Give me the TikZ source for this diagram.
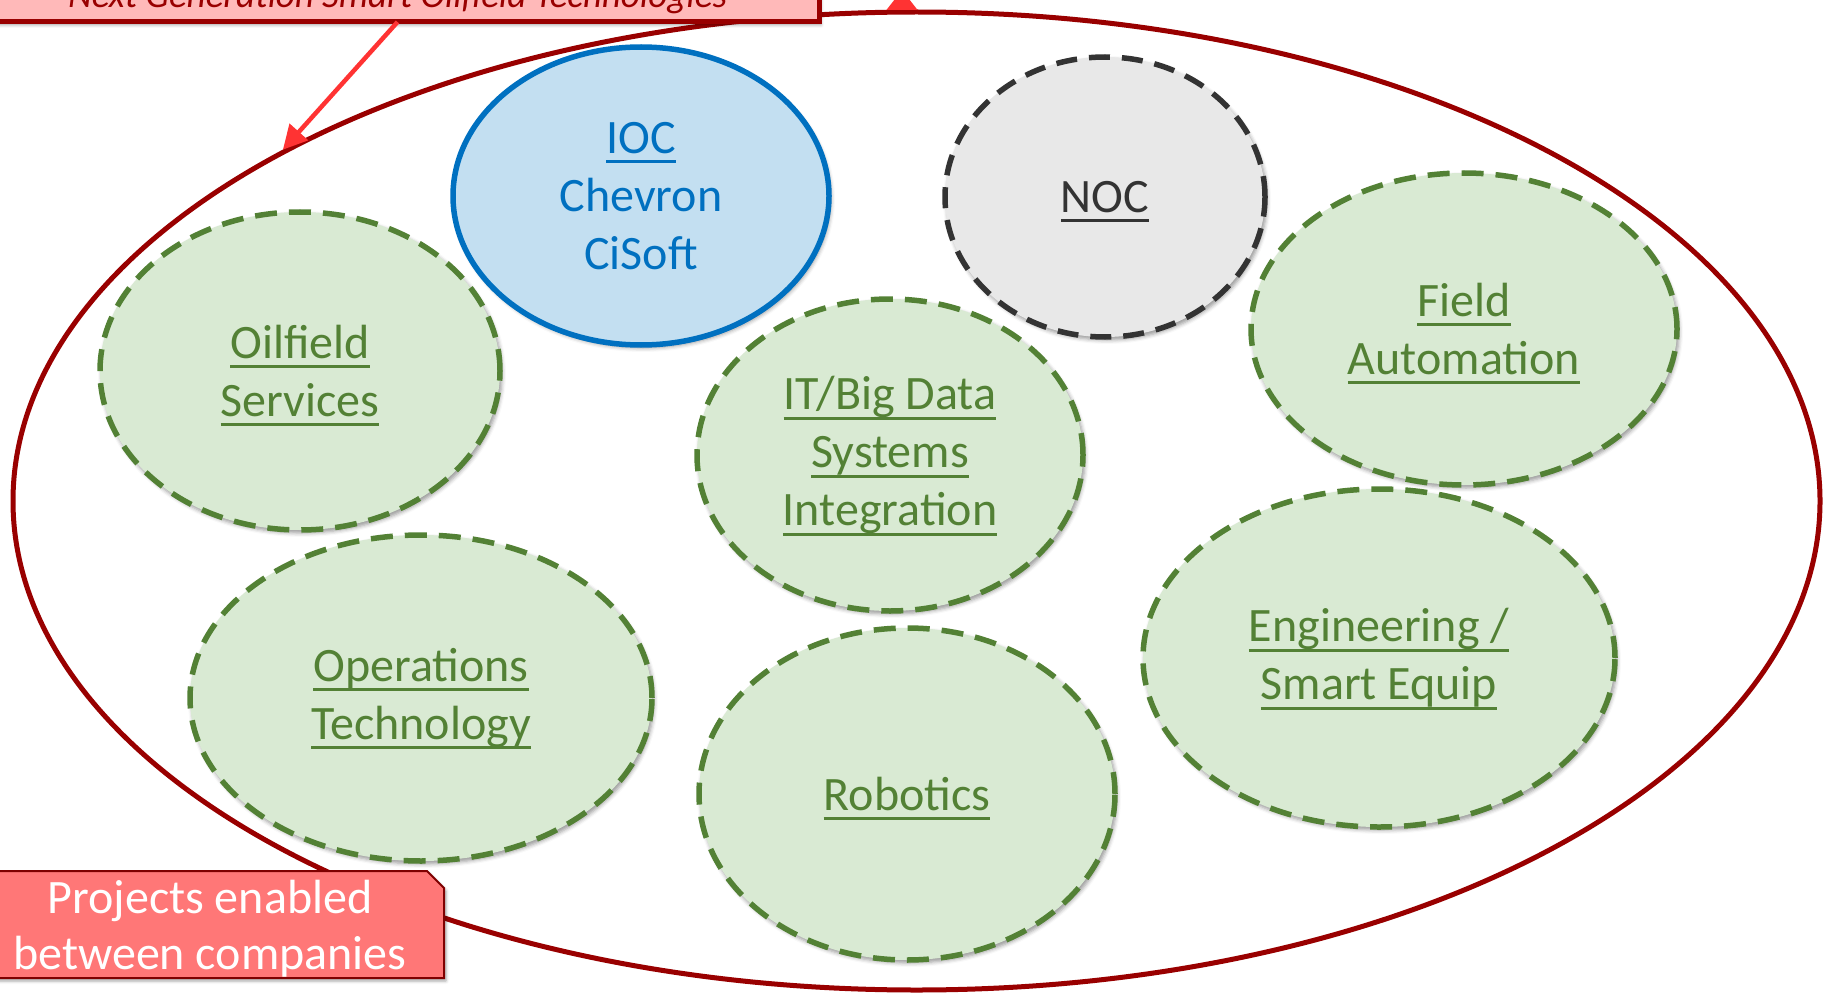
\documentclass[tikz,border=0pt]{standalone}
\usepackage{fontspec}
\setmainfont{Carlito}
\usetikzlibrary{shapes.geometric,arrows.meta,shadows.blur}
\definecolor{outerred}{HTML}{990000}
\definecolor{iocblue}{HTML}{0070C0}
\definecolor{iocfill}{HTML}{C3DFF1}
\definecolor{nocgray}{HTML}{333333}
\definecolor{nocfill}{HTML}{E8E8E8}
\definecolor{grn}{HTML}{538135}
\definecolor{grnfill}{HTML}{D9EAD3}
\definecolor{projfill}{HTML}{FF7777}
\definecolor{projedge}{HTML}{7F0000}
\definecolor{topfill}{HTML}{FFB9B9}
\definecolor{arrowred}{HTML}{FF3333}
\newcommand\myul[1]{\setbox0\hbox{#1}\rlap{\smash{\vrule height -7pt depth 10pt width \wd0}}\box0}
\tikzset{
  bubble/.style={ellipse, inner sep=0pt, align=center, font=\fontsize{48}{58}\selectfont,
    blur shadow={shadow xshift=2pt, shadow yshift=-3pt, shadow blur radius=4pt, shadow opacity=40}},
  grnb/.style={bubble, draw=grn, fill=grnfill, text=grn, line width=5.5pt, dash pattern=on 22pt off 12pt},
  iocb/.style={bubble, draw=iocblue, fill=iocfill, text=iocblue, line width=5.5pt},
  nocb/.style={bubble, draw=nocgray, fill=nocfill, text=nocgray, line width=5.5pt, dash pattern=on 21pt off 12pt},
  redarrow/.style={draw=arrowred, line width=4.5pt},
  boxshadow/.style={blur shadow={shadow xshift=2pt, shadow yshift=-3pt, shadow blur radius=3pt, shadow opacity=35}},
}
\begin{document}
\begin{tikzpicture}[x=1pt,y=-1pt]
\path[use as bounding box] (0,0) rectangle (1825,995);
\clip (0,0) rectangle (1825,995);
\node[ellipse, draw=outerred, line width=5pt, minimum width=1807pt, minimum height=978pt, inner sep=0pt] (outer) at (916.5,501) {};

\node[iocb, minimum width=376pt, minimum height=298pt] (ioc) at (641,196) {\myul{IOC}\\Chevron\\CiSoft};
\node[nocb, minimum width=320pt, minimum height=280pt] (noc) at (1105,197) {\myul{NOC}};
\node[grnb, minimum width=400pt, minimum height=318pt] (ofs) at (300,371) {\myul{Oilfield}\\\myul{Services}};
\node[grnb, minimum width=386pt, minimum height=312pt] (itb) at (890,455) {\myul{IT/Big Data}\\\myul{Systems}\\\myul{Integration}};
\node[grnb, minimum width=426pt, minimum height=312pt] (fa) at (1464,329) {\myul{Field}\\\myul{Automation}};
\node[grnb, minimum width=462pt, minimum height=326pt] (opt) at (421,698) {\myul{Operations}\\\myul{Technology}};
\node[grnb, minimum width=416pt, minimum height=332pt] (rob) at (907,794) {\myul{Robotics}};
\node[grnb, minimum width=472pt, minimum height=338pt] (eng) at (1379,658) {\myul{Engineering /}\\\myul{Smart Equip}};

\node[draw=outerred, fill=topfill, line width=5pt, minimum width=843pt, text height=27pt, text depth=9pt,
  inner ysep=5pt, outer sep=0pt, anchor=south, text=outerred, font=\fontsize{37}{44}\selectfont\itshape, boxshadow]
  (top) at (397.5,22) {Next Generation Smart Oilfield Technologies};

\draw[redarrow, -{Triangle[length=24pt,width=24pt]}] (top.south) -- (outer.151.4);
\coordinate (upend) at (902,-10);
\draw[redarrow, -{Triangle[length=20pt,width=30pt]}] (outer.north -| upend) -- (upend);

% snipped-corner label box
\path[draw=projedge, fill=projfill, line width=2pt, boxshadow]
  (-5,871) -- (427,871) -- (444,888) -- (444,978) -- (-5,978) -- cycle;
\node[text=white, align=center, font=\fontsize{48}{56}\selectfont, inner sep=0pt]
  (proj) at (210,929) {Projects enabled\\between companies};
\end{tikzpicture}
\end{document}
